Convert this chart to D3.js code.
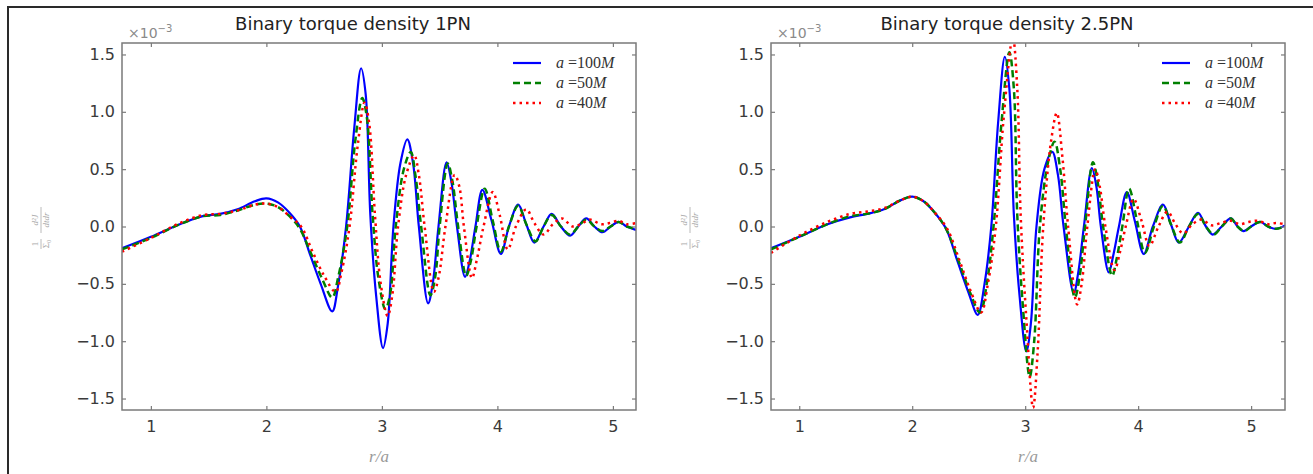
<!DOCTYPE html>
<html>
<head>
<meta charset="utf-8">
<script src="https://cdn.jsdelivr.net/npm/d3@7"></script>
<style>
  body { margin: 0; background: #fff; }
  svg { display: block; }
</style>
</head>
<body>
<div id="chart"></div>
<script>
// values are in units of 1e-3
var titles = ["Binary torque density 1PN", "Binary torque density 2.5PN"];
var seriesNames = ["100", "50", "40"];
var xTicks = [1, 2, 3, 4, 5];
var yTicks = [-1.5, -1.0, -0.5, 0.0, 0.5, 1.0, 1.5];

// 1PN panel
var pn1_a100 = [[0.75,-0.19],[1.0,-0.09],[1.25,0.02],[1.45,0.09],[1.6,0.11],[1.75,0.15],[1.9,0.22],[2.0,0.245],[2.1,0.21],[2.2,0.12],[2.29,0.0],[2.38,-0.25],[2.47,-0.5],[2.57,-0.74],[2.62,-0.52],[2.69,0.0],[2.76,0.85],[2.82,1.38],[2.86,1.15],[2.90,0.1],[2.95,-0.6],[3.01,-1.06],[3.05,-0.85],[3.10,0.0],[3.16,0.55],[3.22,0.76],[3.27,0.55],[3.32,0.0],[3.40,-0.67],[3.44,-0.5],[3.49,0.0],[3.56,0.56],[3.60,0.4],[3.65,0.0],[3.72,-0.44],[3.76,-0.3],[3.81,0.0],[3.87,0.32],[3.95,0.05],[4.03,-0.24],[4.10,0.0],[4.18,0.19],[4.25,0.02],[4.32,-0.14],[4.40,0.0],[4.47,0.11],[4.55,0.0],[4.63,-0.08],[4.70,0.0],[4.77,0.07],[4.84,0.0],[4.91,-0.05],[4.98,0.0],[5.05,0.04],[5.12,0.0],[5.2,-0.03]];
var pn1_a50 = [[0.75,-0.2],[1.0,-0.1],[1.25,0.02],[1.45,0.09],[1.6,0.1],[1.75,0.14],[1.9,0.19],[2.0,0.2],[2.1,0.17],[2.2,0.09],[2.29,-0.02],[2.38,-0.22],[2.48,-0.45],[2.57,-0.62],[2.62,-0.45],[2.70,0.0],[2.77,0.75],[2.83,1.12],[2.87,0.95],[2.92,0.1],[2.97,-0.45],[3.03,-0.72],[3.07,-0.6],[3.12,0.0],[3.19,0.5],[3.25,0.65],[3.29,0.45],[3.34,0.0],[3.42,-0.6],[3.46,-0.45],[3.50,0.0],[3.57,0.55],[3.61,0.4],[3.66,0.0],[3.73,-0.43],[3.77,-0.3],[3.82,0.0],[3.89,0.33],[3.96,0.05],[4.03,-0.22],[4.10,0.0],[4.18,0.18],[4.25,0.02],[4.33,-0.13],[4.40,0.0],[4.47,0.1],[4.55,0.0],[4.63,-0.07],[4.70,0.0],[4.77,0.06],[4.84,0.0],[4.91,-0.04],[4.98,0.0],[5.05,0.04],[5.12,0.0],[5.2,-0.02]];
var pn1_a40 = [[0.75,-0.22],[1.0,-0.1],[1.25,0.03],[1.45,0.1],[1.6,0.11],[1.75,0.14],[1.9,0.19],[2.0,0.2],[2.1,0.17],[2.2,0.09],[2.3,0.0],[2.4,-0.22],[2.5,-0.43],[2.60,-0.57],[2.65,-0.4],[2.72,0.0],[2.79,0.7],[2.85,1.08],[2.89,0.9],[2.94,0.1],[2.99,-0.5],[3.05,-0.78],[3.09,-0.6],[3.14,0.0],[3.21,0.45],[3.28,0.62],[3.32,0.45],[3.37,0.0],[3.45,-0.57],[3.49,-0.45],[3.55,0.0],[3.63,0.45],[3.67,0.35],[3.71,0.0],[3.78,-0.45],[3.82,-0.3],[3.88,0.0],[3.96,0.3],[4.02,0.1],[4.09,-0.2],[4.16,0.0],[4.25,0.15],[4.32,0.03],[4.40,-0.07],[4.48,0.02],[4.56,0.07],[4.65,0.0],[4.72,0.02],[4.80,0.06],[4.90,0.02],[4.97,0.03],[5.05,0.05],[5.12,0.02],[5.2,0.03]];

// 2.5PN panel
var pn25_a100 = [[0.75,-0.19],[1.0,-0.09],[1.25,0.02],[1.45,0.08],[1.6,0.11],[1.75,0.15],[1.9,0.23],[2.0,0.26],[2.1,0.22],[2.2,0.12],[2.3,-0.02],[2.4,-0.3],[2.5,-0.58],[2.58,-0.77],[2.64,-0.5],[2.70,0.0],[2.76,0.9],[2.82,1.48],[2.86,1.2],[2.90,0.1],[2.95,-0.6],[3.01,-1.09],[3.05,-0.85],[3.10,0.0],[3.17,0.5],[3.24,0.65],[3.29,0.45],[3.34,0.0],[3.43,-0.58],[3.47,-0.4],[3.52,0.0],[3.59,0.51],[3.63,0.35],[3.67,0.0],[3.74,-0.4],[3.78,-0.25],[3.83,0.0],[3.90,0.30],[3.97,0.05],[4.05,-0.24],[4.13,0.0],[4.22,0.19],[4.29,0.02],[4.36,-0.14],[4.45,0.0],[4.53,0.12],[4.60,0.0],[4.66,-0.07],[4.74,0.0],[4.82,0.07],[4.88,0.0],[4.93,-0.04],[5.0,0.0],[5.08,0.04],[5.15,0.0],[5.22,-0.02],[5.3,0.01]];
var pn25_a50 = [[0.75,-0.2],[1.0,-0.09],[1.25,0.02],[1.45,0.09],[1.6,0.11],[1.75,0.15],[1.9,0.23],[2.0,0.26],[2.1,0.22],[2.2,0.12],[2.3,-0.02],[2.41,-0.3],[2.51,-0.57],[2.60,-0.75],[2.66,-0.5],[2.72,0.0],[2.79,0.9],[2.86,1.52],[2.90,1.2],[2.93,0.1],[2.98,-0.7],[3.04,-1.31],[3.08,-1.0],[3.13,0.0],[3.20,0.55],[3.26,0.74],[3.31,0.5],[3.36,0.0],[3.44,-0.62],[3.48,-0.45],[3.53,0.0],[3.60,0.56],[3.64,0.4],[3.69,0.0],[3.77,-0.43],[3.81,-0.28],[3.86,0.0],[3.92,0.33],[3.99,0.05],[4.06,-0.23],[4.14,0.0],[4.22,0.18],[4.29,0.02],[4.37,-0.14],[4.45,0.0],[4.53,0.11],[4.60,0.0],[4.67,-0.07],[4.74,0.0],[4.82,0.07],[4.88,0.0],[4.94,-0.04],[5.0,0.0],[5.08,0.04],[5.15,0.0],[5.22,-0.02],[5.3,0.0]];
var pn25_a40 = [[0.75,-0.23],[1.0,-0.08],[1.25,0.04],[1.45,0.11],[1.6,0.13],[1.75,0.16],[1.9,0.23],[2.0,0.26],[2.1,0.22],[2.2,0.12],[2.31,-0.02],[2.42,-0.3],[2.52,-0.57],[2.61,-0.75],[2.67,-0.5],[2.74,0.0],[2.81,0.95],[2.89,1.65],[2.93,1.2],[2.96,0.1],[3.01,-0.8],[3.07,-1.58],[3.11,-1.1],[3.16,0.0],[3.23,0.75],[3.28,0.99],[3.33,0.6],[3.38,0.0],[3.46,-0.68],[3.50,-0.5],[3.55,0.0],[3.62,0.5],[3.66,0.35],[3.71,0.0],[3.79,-0.38],[3.84,-0.22],[3.89,0.0],[3.96,0.24],[4.03,0.05],[4.10,-0.17],[4.18,0.0],[4.26,0.13],[4.33,0.02],[4.40,-0.06],[4.48,0.02],[4.56,0.06],[4.65,0.01],[4.73,0.03],[4.82,0.05],[4.90,0.02],[4.98,0.04],[5.06,0.05],[5.15,0.02],[5.22,0.03],[5.3,0.02]];

var panels = [
  {title: titles[0], left: 122, xmax: 5.2, titleX: 353, series: [pn1_a100, pn1_a50, pn1_a40]},
  {title: titles[1], left: 771, xmax: 5.3, titleX: 1007, series: [pn25_a100, pn25_a50, pn25_a40]}
];
var styles = [
  {color: "#0000ff", width: 2.2, dash: null},
  {color: "#008000", width: 2.5, dash: "7,4"},
  {color: "#ff0000", width: 2.5, dash: "2.5,4"}
];

var W = 1313, H = 474;
var axTop = 43, axW = 514, axH = 367;
var spine = "#7a7a7a";

var svg = d3.select("#chart").append("svg")
  .attr("width", W).attr("height", H);
svg.append("rect").attr("width", W).attr("height", H).attr("fill", "#fff");

// outer frame (only left and top edges show)
svg.append("path")
  .attr("d", "M8," + H + "V7H" + W)
  .attr("fill", "none").attr("stroke", "#2a2a2a").attr("stroke-width", 2);

panels.forEach(function(p, pi) {
  var g = svg.append("g").attr("transform", "translate(" + p.left + "," + axTop + ")");

  var x = d3.scaleLinear().domain([0.75, p.xmax]).range([0, axW]);
  var y = d3.scaleLinear().domain([-1.6, 1.6]).range([axH, 0]);

  g.append("clipPath").attr("id", "clip" + pi)
    .append("rect").attr("width", axW).attr("height", axH);

  var line = d3.line()
    .x(function(d) { return x(d[0]); })
    .y(function(d) { return y(d[1]); })
    .curve(d3.curveCatmullRom.alpha(0.5));

  p.series.forEach(function(s, si) {
    g.append("path")
      .datum(s)
      .attr("clip-path", "url(#clip" + pi + ")")
      .attr("d", line)
      .attr("fill", "none")
      .attr("stroke", styles[si].color)
      .attr("stroke-width", styles[si].width)
      .attr("stroke-dasharray", styles[si].dash)
      .attr("stroke-linejoin", "round");
  });

  // axes, ticks pointing inward on all four sides
  var fmtY = d3.format(".1f");
  var bottom = g.append("g").attr("transform", "translate(0," + axH + ")")
    .call(d3.axisBottom(x).tickValues(xTicks).tickSize(-4).tickPadding(11).tickFormat(d3.format("d")));
  var topAx = g.append("g")
    .call(d3.axisTop(x).tickValues(xTicks).tickSize(-4).tickFormat(""));
  var leftAx = g.append("g")
    .call(d3.axisLeft(y).tickValues(yTicks).tickSize(-4).tickPadding(7).tickFormat(fmtY));
  var rightAx = g.append("g").attr("transform", "translate(" + axW + ",0)")
    .call(d3.axisRight(y).tickValues(yTicks).tickSize(-4).tickFormat(""));

  [bottom, topAx, leftAx, rightAx].forEach(function(a) {
    a.select(".domain").remove();
    a.selectAll(".tick line").attr("stroke", spine).attr("stroke-width", 1.2);
    a.selectAll(".tick text")
      .attr("fill", "#3a3a3a")
      .style("font-family", "DejaVu Sans, sans-serif")
      .style("font-size", "16px");
  });

  g.append("rect")
    .attr("width", axW).attr("height", axH)
    .attr("fill", "none").attr("stroke", spine).attr("stroke-width", 1.5);

  // offset text
  var off = g.append("text").attr("x", 6).attr("y", -5)
    .attr("fill", "#8a8a8a")
    .style("font-family", "DejaVu Sans, sans-serif").style("font-size", "14px");
  off.append("tspan").text("\u00d710");
  off.append("tspan").attr("dy", -6).style("font-size", "10px").text("\u22123");

  // title
  svg.append("text")
    .attr("x", p.titleX).attr("y", 30)
    .attr("text-anchor", "middle")
    .attr("fill", "#222")
    .style("font-family", "DejaVu Sans, sans-serif").style("font-size", "18px")
    .text(p.title);

  // x label
  svg.append("text")
    .attr("x", p.left + axW / 2).attr("y", 462)
    .attr("text-anchor", "middle")
    .attr("fill", "#9a9a9a")
    .style("font-family", "Liberation Serif, serif").style("font-style", "italic").style("font-size", "17px")
    .text("r/a");

  // y label: (1/Σ0) d²J/dtdr, rotated
  var yl = svg.append("g")
    .attr("transform", "translate(" + (p.left - 81) + ",226) rotate(-90)")
    .attr("fill", "#a8a8a8")
    .style("font-family", "Liberation Serif, serif").style("font-style", "italic").style("font-size", "9px");
  yl.append("text").attr("x", -18).attr("y", -3).attr("text-anchor", "middle").style("font-style", "normal").text("1");
  yl.append("text").attr("x", -18).attr("y", 8).attr("text-anchor", "middle").style("font-style", "normal").text("\u03a3\u2080");
  yl.append("line").attr("x1", -23).attr("x2", -13).attr("y1", 0).attr("y2", 0).attr("stroke", "#a8a8a8").attr("stroke-width", 0.8);
  yl.append("text").attr("x", 6).attr("y", -3).attr("text-anchor", "middle").text("d\u00b2J");
  yl.append("text").attr("x", 6).attr("y", 8).attr("text-anchor", "middle").text("dtdr");
  yl.append("line").attr("x1", -7).attr("x2", 19).attr("y1", 0).attr("y2", 0).attr("stroke", "#a8a8a8").attr("stroke-width", 0.8);

  // legend, no frame, upper right
  var lg = svg.append("g").attr("transform", "translate(" + (p.left + axW) + ",0)");
  seriesNames.forEach(function(n, si) {
    var yy = 63 + si * 20;
    lg.append("line")
      .attr("x1", -123).attr("x2", -95).attr("y1", yy).attr("y2", yy)
      .attr("stroke", styles[si].color).attr("stroke-width", styles[si].width)
      .attr("stroke-dasharray", styles[si].dash);
    var t = lg.append("text").attr("x", -80).attr("y", yy + 5)
      .attr("fill", "#333")
      .style("font-family", "Liberation Serif, serif").style("font-size", "16px");
    t.append("tspan").style("font-style", "italic").text("a");
    t.append("tspan").text(" =" + n);
    t.append("tspan").style("font-style", "italic").text("M");
  });
});
</script>
</body>
</html>
